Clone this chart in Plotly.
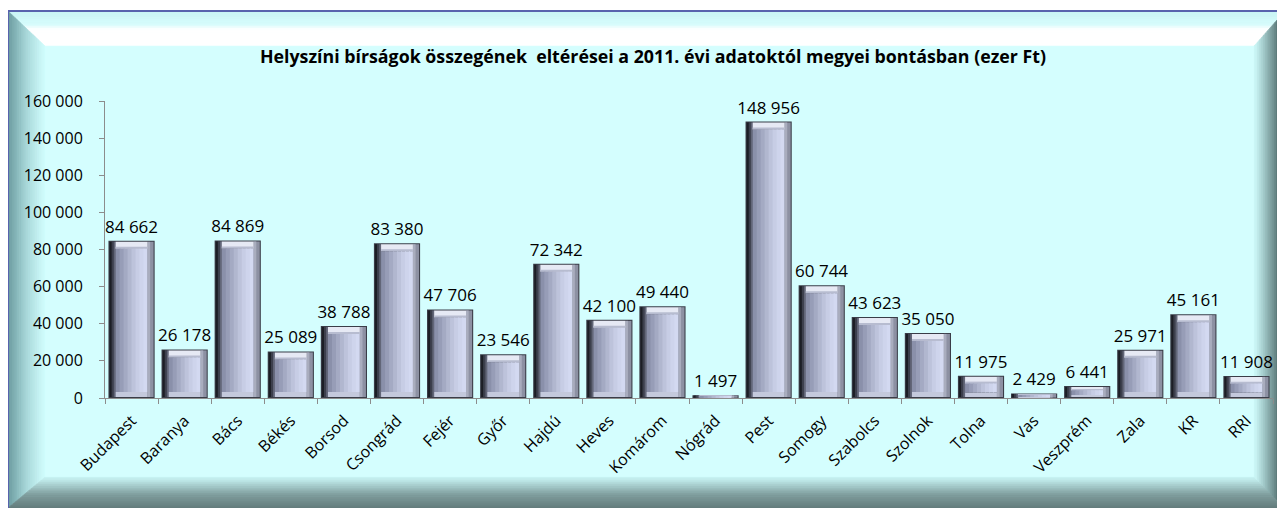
import numpy as np
import plotly.graph_objects as go

categories = ["Budapest", "Baranya", "Bács", "Békés", "Borsod", "Csongrád", "Fejér", "Győr",
              "Hajdú", "Heves", "Komárom", "Nógrád", "Pest", "Somogy", "Szabolcs", "Szolnok",
              "Tolna", "Vas", "Veszprém", "Zala", "KR", "RRI"]
values = [84662, 26178, 84869, 25089, 38788, 83380, 47706, 23546,
          72342, 42100, 49440, 1497, 148956, 60744, 43623, 35050,
          11975, 2429, 6441, 25971, 45161, 11908]
title_text = "Helyszíni bírságok összegének  eltérései a 2011. évi adatoktól megyei bontásban (ezer Ft)"

OFF = 8  # page body margin
W, H = 1285 - OFF, 508 - OFF
PL, PR, PT, PB = 105 - OFF, 1273 - OFF, 101 - OFF, 398 - OFF  # plot area in figure pixels
YMAX = 160000
FONT = "Open Sans"

v = np.array(values, dtype=float)
u_per_px = YMAX / (PB - PT)
top_h = np.minimum(8 * u_per_px, v * 0.35)
bot_h = np.minimum(6 * u_per_px, v * 0.25)
edge = np.minimum(1 * u_per_px, v * 0.1)
face_h = np.maximum(v - top_h - bot_h, 0)

fig = go.Figure()


def layer(y, base, offset, width, color, **kw):
    fig.add_trace(go.Bar(x=categories, y=y, base=base, offset=offset, width=width,
                         marker=dict(color=color, line=dict(width=0)),
                         hoverinfo="skip", showlegend=False, **kw))


# outer body with data labels
layer(v, 0, -0.435, 0.87, "#3a3d48",
      text=values, texttemplate="%{text:,.0f}", textposition="outside",
      textfont=dict(family=FONT, size=17, color="#000000"), constraintext="none",
      cliponaxis=False)
# right bevel
layer(v - 2 * edge, edge, 0.30, 0.115, "#8d91a3")
layer(v - 2 * edge, edge, 0.30, 0.05, "#a9adbe")
# left bevel (dark gradient)
layer(v - 2 * edge, edge, -0.415, 0.045, "#1c1e25")
layer(v - 2 * edge, edge, -0.375, 0.045, "#3c3f4c")
layer(v - 2 * edge, edge, -0.335, 0.04, "#626678")
# bottom bevel
layer(bot_h - edge, edge, -0.30, 0.60, "#c4c9dc")
# top bevel
layer(top_h - edge, v - top_h, -0.30, 0.60, "#e6e9f4")
layer(top_h * 0.25, v - top_h, -0.30, 0.60, "#b7bcd0")
# face (horizontal gradient by strips, slightly overlapping)
face_cols = ["#8a90aa", "#979db7", "#a4aac3", "#b1b7cf", "#bdc3db", "#c7cde5", "#ced4ec", "#d3d9f1"]
n = len(face_cols)
for i, c in enumerate(face_cols):
    w = 0.6 / n + (0.02 if i < n - 1 else 0.0)
    layer(face_h, bot_h, -0.30 + 0.6 * i / n, w, c)


# ---- decorative background frame (paper coords from page pixels) ----
def px(x):
    return (x - OFF - PL) / (PR - PL)


def py(y):
    return (PB - (y - OFF)) / (PB - PT)


def hex2rgb(h):
    h = h.lstrip("#")
    return np.array([int(h[i:i + 2], 16) for i in (0, 2, 4)], dtype=float)


def grad(stops, t):
    ts = [s[0] for s in stops]
    cs = [hex2rgb(s[1]) for s in stops]
    for i in range(len(ts) - 1):
        if ts[i] <= t <= ts[i + 1]:
            f = (t - ts[i]) / (ts[i + 1] - ts[i])
            c = cs[i] * (1 - f) + cs[i + 1] * f
            return "rgb(%d,%d,%d)" % tuple(c.round())
    c = cs[-1]
    return "rgb(%d,%d,%d)" % tuple(c.round())


def path(pts):
    return "M " + " L ".join("%f,%f" % (px(a), py(b)) for a, b in pts) + " Z"


shapes = []
X0, Y0, X1, Y1 = 8, 11, 1285, 508
BL, BT, BR, BB = 36, 34, 30, 30
INTERIOR = "#d4fefe"
shapes.append(dict(type="rect", xref="paper", yref="paper", x0=px(X0), x1=px(X1), y0=py(Y1), y1=py(Y0),
                   fillcolor=INTERIOR, line=dict(width=0), layer="below"))

top_st = [(0, "#c8f4f4"), (0.4, "#d6fcfc"), (0.55, "#ffffff"), (1, "#ffffff")]
left_st = [(0, "#6a9a9e"), (0.5, "#a6d6d8"), (1, "#d0fcfc")]
bot_st = [(0, "#637c7c"), (0.45, "#7f9d9d"), (1, "#c6f2f2")]
right_st = [(0, "#2c3c3c"), (0.35, "#6a8a8a"), (1, "#cdf9f9")]

N = 16
for k in range(N):
    t0, t1 = k / N, (k + 1) / N
    tm = (t0 + t1) / 2
    Lo, To, Ro, Bo = X0 + BL * t0, Y0 + BT * t0, X1 - BR * t0, Y1 - BB * t0
    Li, Ti, Ri, Bi = X0 + BL * t1 + 0.6, Y0 + BT * t1 + 0.6, X1 - BR * t1 - 0.6, Y1 - BB * t1 - 0.6
    for pts, st in (
        ([(Lo, To), (Ro, To), (Ri, Ti), (Li, Ti)], top_st),
        ([(Lo, To), (Li, Ti), (Li, Bi), (Lo, Bo)], left_st),
        ([(Lo, Bo), (Li, Bi), (Ri, Bi), (Ro, Bo)], bot_st),
        ([(Ro, To), (Ro, Bo), (Ri, Bi), (Ri, Ti)], right_st),
    ):
        col = grad(st, tm)
        shapes.append(dict(type="path", xref="paper", yref="paper", path=path(pts),
                           fillcolor=col, line=dict(width=0.6, color=col), layer="below"))

# thin blue border on top and left
shapes.append(dict(type="line", xref="paper", yref="paper", x0=px(X0), x1=px(X1), y0=py(Y0), y1=py(Y0),
                   line=dict(color="#5863ad", width=2), layer="below"))
shapes.append(dict(type="line", xref="paper", yref="paper", x0=px(X0), x1=px(X0), y0=py(Y0), y1=py(Y1),
                   line=dict(color="#5863ad", width=2), layer="below"))

fig.update_layout(
    width=W, height=H,
    margin=dict(l=PL, r=W - PR, t=PT, b=H - PB, autoexpand=False),
    paper_bgcolor="#ffffff", plot_bgcolor="rgba(0,0,0,0)",
    barmode="overlay",
    separators=", ",
    shapes=shapes,
    showlegend=False,
    title=dict(text="<b>" + title_text + "</b>", x=(653 - OFF) / W, xanchor="center", xref="container",
               y=1 - (57 - OFF) / H, yanchor="middle", yref="container",
               font=dict(family=FONT, size=17.8, color="#000000")),
    font=dict(family=FONT, color="#000000"),
)
fig.update_yaxes(range=[0, YMAX], dtick=20000, tickformat=",.0f", showgrid=False, zeroline=False,
                 showline=True, linecolor="#8c8c8c", linewidth=1, ticks="outside", ticklen=5,
                 tickcolor="#8c8c8c", ticklabelstandoff=13,
                 tickfont=dict(family=FONT, size=16, color="#000000"))
fig.update_xaxes(showgrid=False, showline=True, linecolor="#8c8c8c", linewidth=1, ticks="outside",
                 tickson="boundaries", ticklen=5, tickcolor="#8c8c8c", tickangle=-45,
                 ticklabelstandoff=6,
                 tickfont=dict(family=FONT, size=16, color="#000000"),
                 range=[-0.5, len(categories) - 0.5])

fig.write_html("out.html")
